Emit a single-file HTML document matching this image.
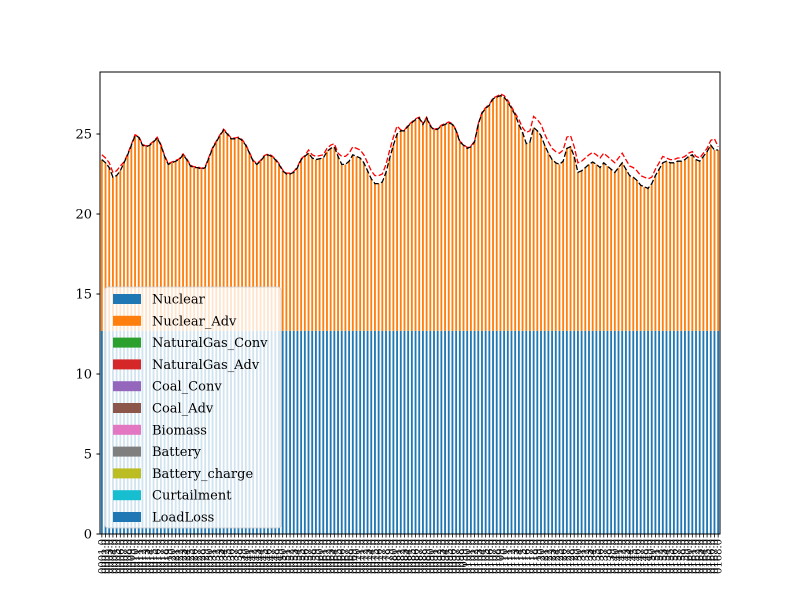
<!DOCTYPE html>
<html><head><meta charset="utf-8"><style>
html,body{margin:0;padding:0;background:#fff;}
svg{display:block;font-family:"DejaVu Serif","Liberation Serif",serif;}
</style></head><body>
<svg id="chart" width="800" height="600" viewBox="0 0 800 600"></svg>
<script>
const nuclear = 12.7;
const totalGen = [
23.4,23.2,22.9,22.3,22.4,22.7,23.2,23.7,24.3,24.9,
24.8,24.3,24.2,24.3,24.5,24.75,24.3,23.6,23.1,23.2,
23.3,23.4,23.7,23.4,23.0,22.9,22.9,22.8,22.9,23.5,
24.1,24.5,24.9,25.25,25.0,24.7,24.7,24.75,24.6,24.3,
23.8,23.3,23.1,23.3,23.6,23.7,23.6,23.4,23.1,22.7,
22.5,22.5,22.6,22.9,23.4,23.6,23.8,23.5,23.4,23.45,
23.5,23.9,24.1,24.2,23.6,23.1,23.1,23.3,23.7,23.6,
23.5,23.2,22.7,22.2,21.9,21.9,22.0,22.6,23.5,24.3,
25.0,25.2,25.2,25.5,25.7,25.9,26.0,25.6,26.0,25.5,
25.25,25.3,25.5,25.6,25.7,25.6,25.2,24.5,24.3,24.1,
24.2,24.5,25.6,26.3,26.6,26.8,27.2,27.3,27.4,27.3,
27.0,26.6,26.2,25.6,25.1,24.4,24.5,25.4,25.2,24.9,
24.3,23.8,23.4,23.2,23.1,23.3,24.1,24.2,23.6,22.6,
22.7,22.9,23.1,23.25,23.1,22.9,23.2,23.0,22.8,22.6,
22.9,23.2,22.8,22.4,22.3,22.1,21.8,21.7,21.6,21.9,
22.4,22.8,23.2,23.3,23.2,23.2,23.3,23.3,23.4,23.6,
23.7,23.4,23.3,23.6,23.9,24.3,24.0,24.0];
const demand = [
23.7,23.5,23.2,22.6,22.7,23.0,23.25,23.75,24.35,24.95,
24.85,24.35,24.25,24.35,24.55,24.8,24.35,23.65,23.15,23.25,
23.35,23.45,23.75,23.45,23.05,22.95,22.95,22.85,22.95,23.55,
24.15,24.55,24.95,25.3,25.05,24.75,24.75,24.8,24.65,24.35,
23.85,23.35,23.15,23.35,23.65,23.75,23.65,23.45,23.15,22.75,
22.55,22.55,22.65,22.95,23.45,23.65,24.0,23.7,23.6,23.65,
23.7,24.1,24.3,24.4,23.8,23.6,23.6,23.8,24.2,24.1,
24.0,23.7,23.2,22.7,22.4,22.4,22.5,23.1,24.0,24.8,
25.5,25.25,25.25,25.55,25.75,25.95,26.05,25.65,26.05,25.55,
25.3,25.35,25.55,25.65,25.75,25.65,25.25,24.55,24.35,24.15,
24.25,24.55,25.65,26.35,26.65,26.85,27.25,27.35,27.5,27.4,
27.1,26.7,26.3,25.9,25.4,25.1,25.2,26.1,25.9,25.6,
25.0,24.5,24.1,23.9,23.8,24.0,24.8,24.9,24.2,23.2,
23.3,23.5,23.7,23.85,23.7,23.5,23.8,23.6,23.4,23.2,
23.5,23.8,23.4,23.0,22.9,22.7,22.4,22.3,22.2,22.3,
22.8,23.2,23.6,23.5,23.4,23.4,23.5,23.5,23.6,23.8,
23.9,23.6,23.5,23.8,24.1,24.6,24.7,24.2];
const yTicks = [0,5,10,15,20,25];
const legendNames = ["Nuclear","Nuclear_Adv","NaturalGas_Conv","NaturalGas_Adv","Coal_Conv","Coal_Adv","Biomass","Battery","Battery_charge","Curtailment","LoadLoss"];
const legendColors = ["#1f77b4","#ff7f0e","#2ca02c","#d62728","#9467bd","#8c564b","#e377c2","#7f7f7f","#bcbd22","#17becf","#1f77b4"];

const NS="http://www.w3.org/2000/svg";
const svg=document.getElementById('chart');
const L=100,R=720,T=72,B=534,YMAX=(534-72)/16;
const n=totalGen.length, step=(R-L)/n;
const xc=i=>L+(i+0.5)*step;
const y=v=>B-v*(B-T)/YMAX;
function mk(tag,attrs,parent){const e=document.createElementNS(NS,tag);for(const k in attrs)e.setAttribute(k,attrs[k]);(parent||svg).appendChild(e);return e;}

const bars=mk('g',{});


const bw=step*0.5;
for(let i=0;i<n;i++){
  const b1=mk('rect',{x:xc(i)-bw/2,y:y(nuclear),width:bw,height:y(0)-y(nuclear),fill:'#1f77b4'},bars);
  
  
  const b2=mk('rect',{x:xc(i)-bw/2,y:y(totalGen[i]),width:bw,height:y(nuclear)-y(totalGen[i]),fill:'#ff7f0e'},bars);
  
  
}
const dPts=demand.map((v,i)=>xc(i).toFixed(2)+','+y(v).toFixed(2)).join(' ');
const dl=mk('polyline',{points:dPts,fill:'none',stroke:'#ff0000','stroke-width':1.3,'stroke-dasharray':'5.5,2.4'});


const gPts=totalGen.map((v,i)=>xc(i).toFixed(2)+','+y(v).toFixed(2)).join(' ');
const gl=mk('polyline',{points:gPts,fill:'none',stroke:'#000','stroke-width':1.3,'stroke-dasharray':'5.5,2.4'});



const fr=mk('rect',{x:L,y:T,width:R-L,height:B-T,fill:'none',stroke:'#000','stroke-width':1});



yTicks.forEach(v=>{
  mk('line',{x1:L-3.5,x2:L,y1:y(v),y2:y(v),stroke:'#000'});
  const t=mk('text',{x:L-8,y:y(v)+4.5,'text-anchor':'end','font-size':13,fill:'#000'});
  t.textContent=v;
  
  
});
for(let i=0;i<n;i++){
  mk('line',{x1:xc(i),x2:xc(i),y1:B,y2:B+3.5,stroke:'#000','stroke-width':0.8});
  const t=mk('text',{transform:`translate(${xc(i)+3.5},${B+5}) rotate(-90)`,'text-anchor':'end','font-size':10,fill:'#000'});
  t.textContent=String(i+1).padStart(4,'0')+'.0';
  
  
}

const lg=mk('g',{});


mk('rect',{x:105,y:287,width:176,height:241,rx:3,fill:'#fff','fill-opacity':0.8,stroke:'#ccc','stroke-opacity':0.8},lg);
legendNames.forEach((nm,k)=>{
  const cy=299+k*21.8;
  const e=mk('g',{},lg);
  
  
  mk('rect',{x:113,y:cy-5,width:28,height:10,fill:legendColors[k]},e);
  const t=mk('text',{x:152,y:cy+4.5,'font-size':13,fill:'#000'},e);
  t.textContent=nm;
});
</script>
</body></html>
